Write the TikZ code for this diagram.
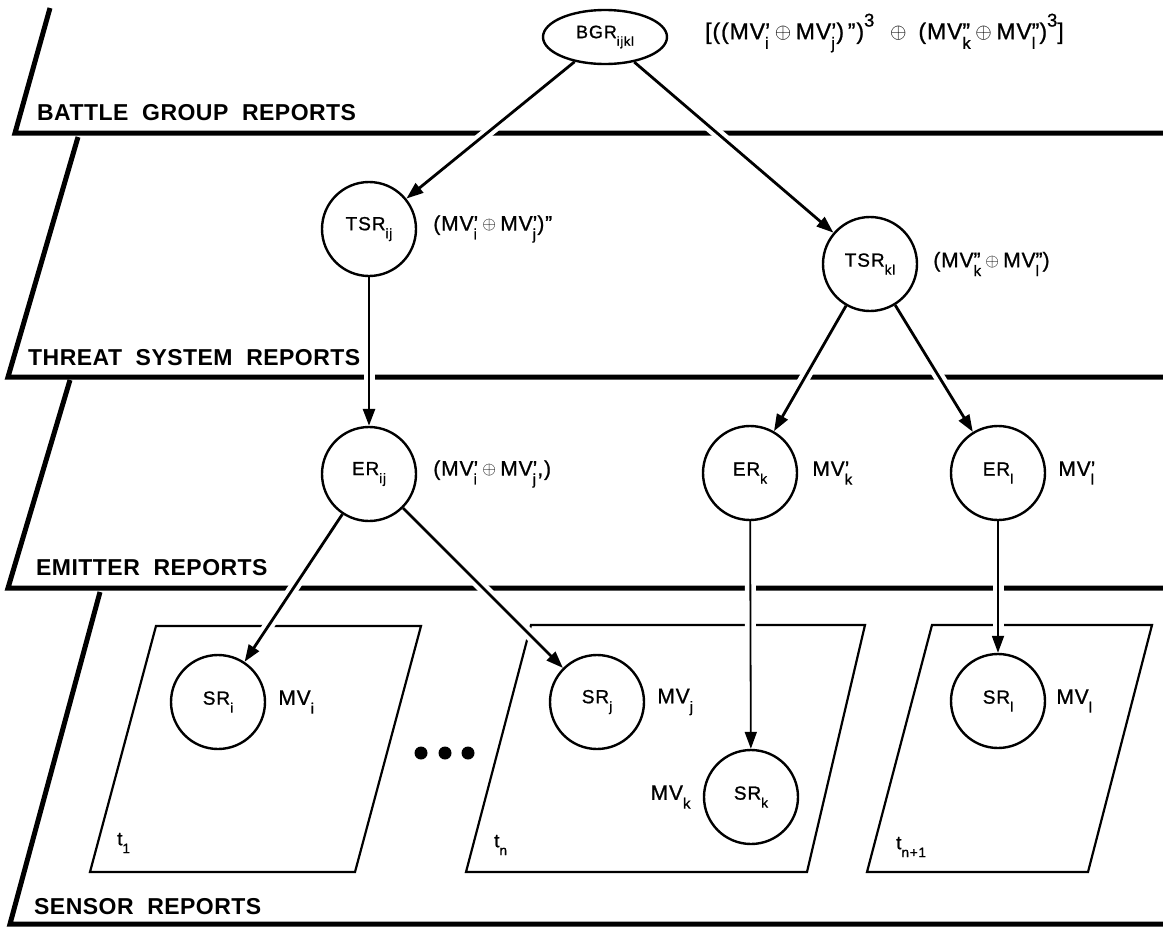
\documentclass[tikz,border=0pt]{standalone}
\usepackage{fontspec}
\usepackage{graphicx}
\setmainfont{Liberation Sans}
\newfontfamily\layerfont{Liberation Sans}[LetterSpace=2,WordSpace=2,Ligatures=TeX]
\newfontfamily\nodefont{Liberation Sans}[LetterSpace=5,FakeBold=1,Ligatures=TeX]
\newfontfamily\labfont{Liberation Sans}[LetterSpace=4,FakeBold=1,Ligatures=TeX]
\usetikzlibrary{arrows.meta,shapes.geometric}
\newsavebox\subbox
\newsavebox\supbox
\newcommand\sbs[1]{\raisebox{-0.42em}{\scalebox{0.72}{#1}}}
\newcommand\MV[2]{MV\sbox\subbox{\sbs{#1}}\sbox\supbox{#2}%
  \ifdim\wd\subbox>\wd\supbox\rlap{\usebox\subbox}\makebox[\wd\subbox][l]{\usebox\supbox}%
  \else\rlap{\usebox\subbox}\usebox\supbox\fi}
\newcommand\opl{\hspace{0.2em}\raisebox{0.05em}{\scalebox{0.85}{$\oplus$}}\hspace{0.2em}}
\newcommand\cube{\raisebox{0.55em}{\scalebox{0.8}{3}}}
\begin{document}
\begin{tikzpicture}[x=1pt,y=-1pt,
 layer/.style={line width=5pt, line join=miter},
 frame/.style={line width=2.2pt, line join=miter},
 rep/.style={circle, draw, line width=2.4pt, minimum size=94pt, inner sep=0pt, fill=white, font=\nodefont\fontsize{19}{21}\selectfont},
 lab/.style={anchor=west, inner sep=0pt, font=\labfont\fontsize{21}{23}\selectfont},
 ttl/.style={anchor=base west, inner sep=0pt, font=\layerfont\bfseries\fontsize{23}{25}\selectfont},
 tlab/.style={anchor=west, inner sep=0pt, font=\nodefont\fontsize{19}{21}\selectfont},
 arr/.style={line width=2.8pt, -{Triangle[length=17pt,width=12pt]},
   preaction={draw=white, line width=11pt, arrows=-, shorten <=10pt, shorten >=14pt}},
 thinarr/.style={arr, line width=1.8pt}]
\useasboundingbox (0,0) rectangle (1163,927);
% layers
\draw[layer] (50,8) -- (15,133) -- (1163,133);
\draw[layer] (78,137) -- (8,377) -- (1163,377);
\draw[layer] (70,380) -- (8,588) -- (1163,588);
\draw[layer] (100,592) -- (10,924) -- (1163,924);
% sensor frames
\draw[frame] (156,626) -- (421,626) -- (355,872) -- (90,872) -- cycle;
\draw[frame] (531,625) -- (865,625) -- (807,872) -- (466,872) -- cycle;
\draw[frame] (932,625) -- (1152,625) -- (1088,872) -- (867,872) -- cycle;
% nodes
\node[ellipse, draw, line width=2.4pt, minimum width=124pt, minimum height=54pt, inner sep=0pt, fill=white, font=\nodefont\fontsize{18}{20}\selectfont] (bgr) at (605,37) {BGR\sbs{ijkl}};
\node[rep] (tsrij) at (369,229) {TSR\sbs{ij}};
\node[rep] (tsrkl) at (870,264) {TSR\sbs{kl}};
\node[rep] (erij) at (369,474) {ER\sbs{ij}};
\node[rep] (erk) at (750,473) {ER\sbs{k}};
\node[rep] (erl) at (998,473) {ER\sbs{l}};
\node[rep] (sri) at (218,702) {SR\sbs{i}};
\node[rep] (srj) at (597,702) {SR\sbs{j}};
\node[rep] (srk) at (751,797) {SR\sbs{k}};
\node[rep] (srl) at (998,701) {SR\sbs{l}};
% labels
\node[lab, font=\labfont\fontsize{23}{25}\selectfont] (fbgr) at (705,33) {[((\MV{i}{'}\opl\MV{j}{'})\,'')\cube{}\, \opl{} (\MV{k}{''}\opl\MV{l}{''})\cube]};
\node[lab] (ftij) at ([xshift=16pt]tsrij.east) {(\MV{i}{'}\opl\MV{j}{'})''};
\node[lab] (ftkl) at ([xshift=15pt]tsrkl.east) {(\MV{k}{''}\opl\MV{l}{''})};
\node[lab] (feij) at ([xshift=16pt]erij.east) {(\MV{i}{'}\opl\MV{j}{'},)};
\node[lab] (fek) at ([xshift=14pt]erk.east) {\MV{k}{'}};
\node[lab] (fel) at ([xshift=12pt]erl.east) {\MV{l}{'}};
\node[lab] (fsi) at ([xshift=12pt]sri.east) {\MV{i}{}};
\node[lab] (fsj) at ([xshift=12pt]srj.east) {\MV{j}{}};
\node[lab] (fsl) at ([xshift=10pt]srl.east) {\MV{l}{}};
\node[lab, anchor=east] (fsk) at ([xshift=-12pt]srk.west) {\MV{k}{}};
\node[tlab] (t1) at (117,843) {t\sbs{1}};
\node[tlab] (tn) at (494,845) {t\sbs{n}};
\node[tlab] (tn1) at (896,847) {t\sbs{n+1}};
% dots
\fill (421,753) circle (6.5pt);
\fill (445,753) circle (6.5pt);
\fill (468,753) circle (6.5pt);
% connectors
\draw[arr] (bgr) -- (tsrij);
\draw[arr] (bgr) -- (tsrkl);
\draw[arr] (tsrij) -- (erij);
\draw[arr] (tsrkl) -- (erk);
\draw[arr] (tsrkl) -- (erl);
\draw[arr] (erij) -- (sri);
\draw[arr] (erij) -- (srj);
\draw[thinarr] (erk) -- (srk);
\draw[thinarr] (erl) -- (srl);
% layer titles
\node[ttl] (tb) at (37,120) {BATTLE GROUP REPORTS};
\node[ttl] (tt) at (28,365) {THREAT SYSTEM REPORTS};
\node[ttl] (te) at (36,575) {EMITTER REPORTS};
\node[ttl] (ts) at (34,914) {SENSOR REPORTS};
\end{tikzpicture}
\end{document}
